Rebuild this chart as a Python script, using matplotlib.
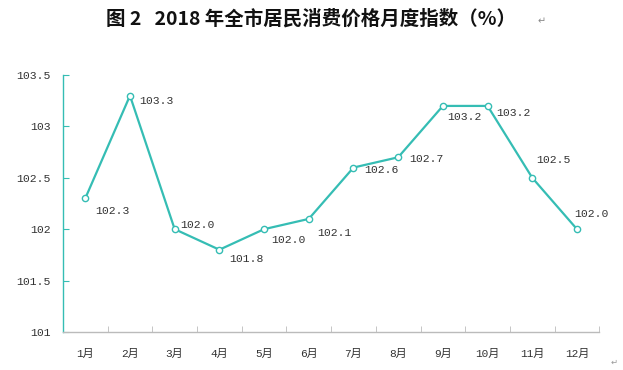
import matplotlib
matplotlib.use("Agg")
import matplotlib.pyplot as plt

plt.rcParams['font.family'] = ['Noto Sans CJK SC', 'DejaVu Sans']

months = ['1月', '2月', '3月', '4月', '5月', '6月', '7月', '8月', '9月', '10月', '11月', '12月']
values = [102.3, 103.3, 102.0, 101.8, 102.0, 102.1, 102.6, 102.7, 103.2, 103.2, 102.5, 102.0]
y_ticks = [101, 101.5, 102, 102.5, 103, 103.5]
y_tick_labels = ['101', '101.5', '102', '102.5', '103', '103.5']

line_color = '#35BDB4'
num_font = ['Liberation Mono', 'Noto Sans CJK SC']

fig = plt.figure(figsize=(6.23, 3.70), dpi=100)
ax = fig.add_axes([0.101, 0.103, 0.861, 0.694])

x = list(range(len(months)))
ax.plot(x, values, color=line_color, lw=1.6, marker='o', ms=4.5,
        markerfacecolor='white', markeredgecolor=line_color, markeredgewidth=1.0, zorder=3)

# label offsets (points)
offsets = [(7, -9), (7, -4), (4, 3), (7, -7), (5, -8), (6, -10),
           (8, -2), (8, -1), (3, -8), (6, -5), (3, 13), (-2, 11)]
for xi, v, (dx, dy) in zip(x, values, offsets):
    ax.annotate(f'{v:.1f}', (xi, v), xytext=(dx, dy), textcoords='offset points',
                fontsize=8.2, color='#333333', ha='left', va='center', family=num_font)

ax.set_xlim(-0.5, len(months) - 0.5)
ax.set_ylim(101, 103.5)
ax.set_yticks(y_ticks)
ax.set_yticklabels(y_tick_labels, fontsize=8.2, color='#333333', family=num_font)
ax.set_xticks(x)
ax.set_xticklabels(months, fontsize=8, color='#333333', family=num_font)
ax.set_xticks([i + 0.5 for i in range(-1, len(months))], minor=True)
ax.tick_params(axis='x', which='major', length=0, pad=12)
ax.tick_params(axis='x', which='minor', direction='in', length=4, color='#BBBBBB')
ax.tick_params(axis='y', direction='in', length=4, color=line_color, pad=9)

for s in ['top', 'right']:
    ax.spines[s].set_visible(False)
ax.spines['left'].set_color(line_color)
ax.spines['bottom'].set_color('#BBBBBB')
ax.spines['left'].set_linewidth(1.0)
ax.spines['bottom'].set_linewidth(1.0)

fig.text(0.5, 0.95, '图 2   2018 年全市居民消费价格月度指数（%）', ha='center', va='center',
         fontsize=14, fontweight='bold', color='#111111')
fig.text(0.862, 0.942, '↵', ha='left', va='center', fontsize=7, color='#888888',
         family=['DejaVu Sans'])
fig.text(0.992, 0.01, '↵', ha='right', va='bottom', fontsize=6, color='#999999',
         family=['DejaVu Sans'])

fig.savefig('out.png', dpi=100)
